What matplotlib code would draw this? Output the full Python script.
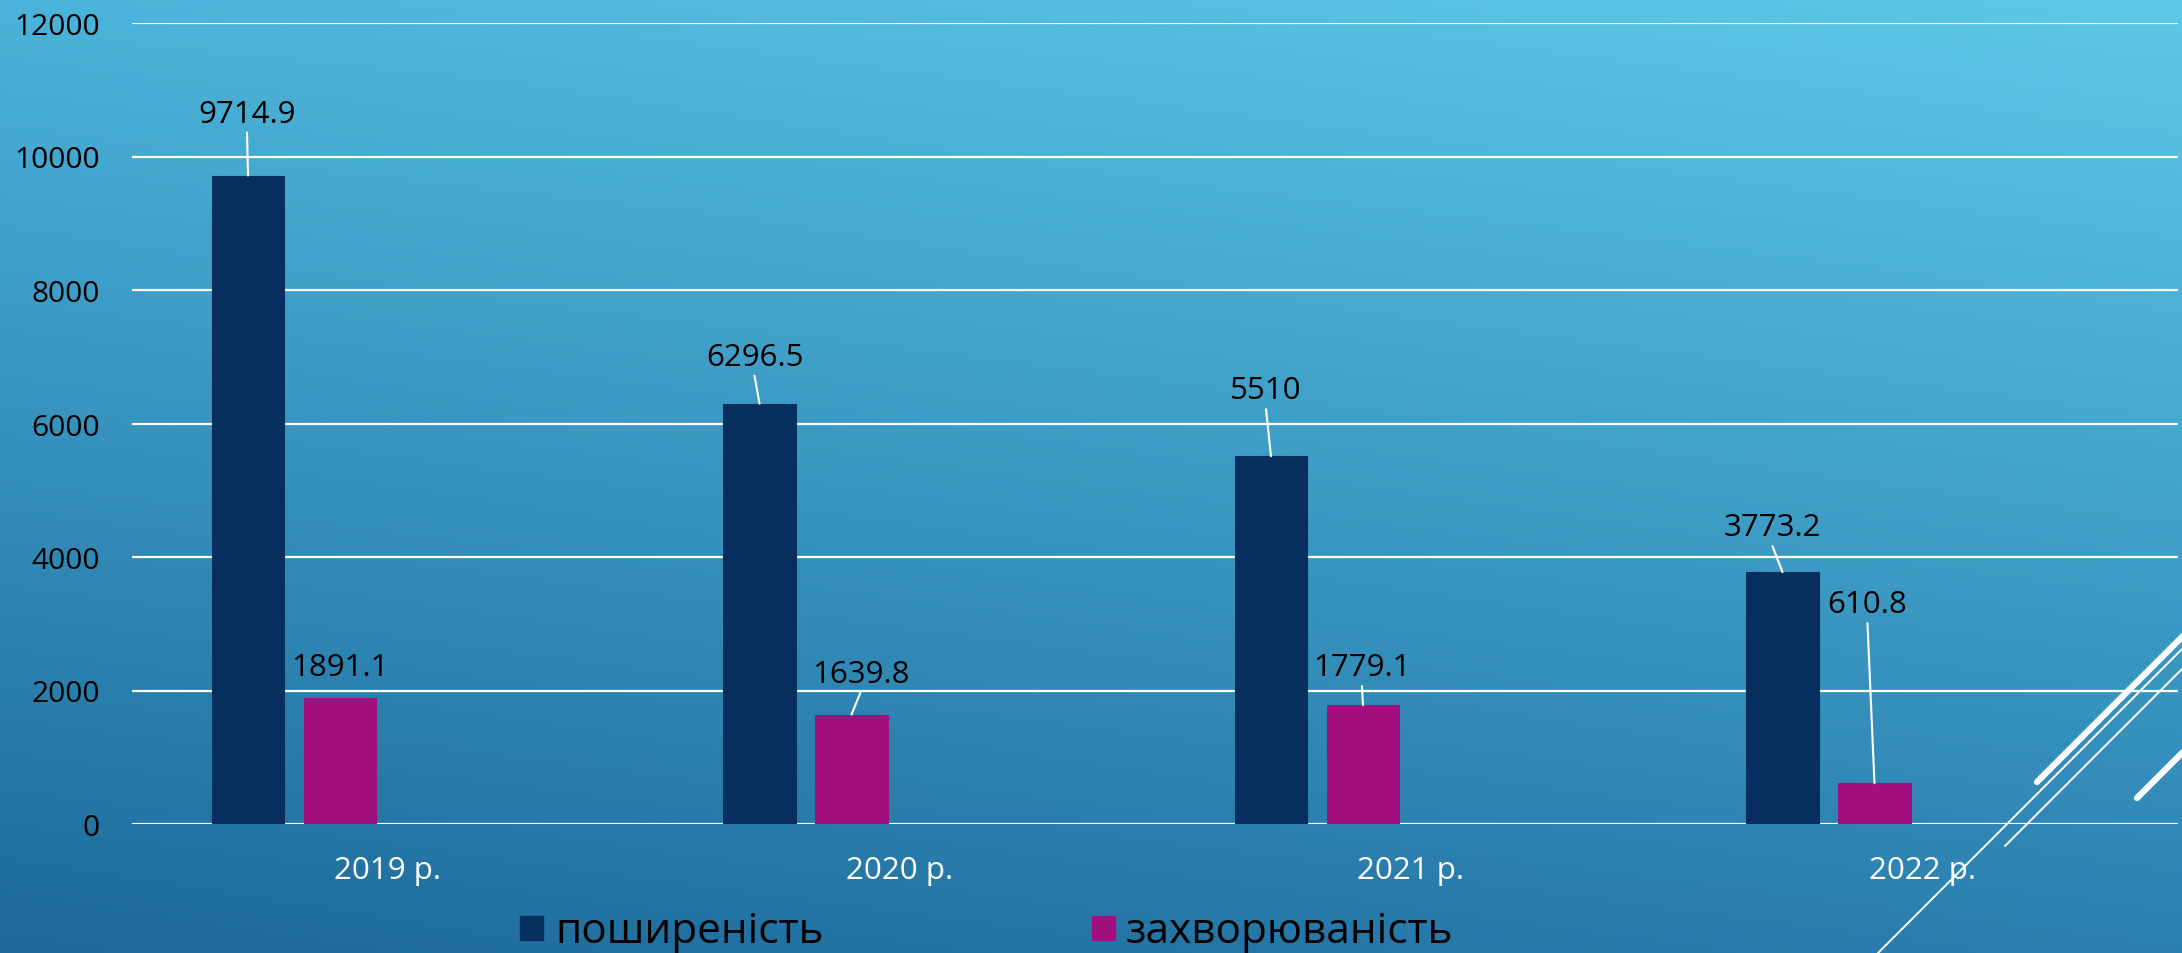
import numpy as np
import matplotlib
matplotlib.use("Agg")
import matplotlib.pyplot as plt
from matplotlib.patches import Rectangle
from matplotlib.lines import Line2D

# ---- data ----
years = ["2019 р.", "2020 р.", "2021 р.", "2022 р."]
series_names = ["поширеність", "захворюваність"]
prevalence = [9714.9, 6296.5, 5510, 3773.2]
incidence = [1891.1, 1639.8, 1779.1, 610.8]
y_ticks = [0, 2000, 4000, 6000, 8000, 10000, 12000]

# ---- styling ----
FONT = ["Open Sans", "DejaVu Sans"]
plt.rcParams["font.family"] = FONT
bar_colors = ["#062E5F", "#A20F7E"]
bar_offsets = [-0.2732, -0.0934]
bar_width = 0.1418
# value-label placement: (dx, dy) in pixels from the top centre of each bar
label_offsets = [
    [(-1, 65), (-5, 50), (-5, 69), (-10, 48)],
    [(0, 34), (9, 44), (-1, 41), (-7, 182)],
]
leaders = [
    [True, True, True, True],
    [False, True, True, True],
]

W, H = 2182, 954
fig = plt.figure(figsize=(W / 100, H / 100), dpi=100)

# background gradient
bg = fig.add_axes([0, 0, 1, 1], zorder=-10)
bg.set_xlim(0, W)
bg.set_ylim(H, 0)
bg.axis("off")
tl = np.array([0x4B, 0xB3, 0xD9]) / 255
tr = np.array([0x5C, 0xC9, 0xE6]) / 255
bl = np.array([0x1C, 0x6A, 0x9A]) / 255
br = np.array([0x2B, 0x80, 0xB1]) / 255
gy, gx = np.mgrid[0:1:120j, 0:1:240j]
grad = ((1 - gy)[..., None] * ((1 - gx)[..., None] * tl + gx[..., None] * tr)
        + gy[..., None] * ((1 - gx)[..., None] * bl + gx[..., None] * br))
bg.imshow(grad, extent=(0, W, H, 0), aspect="auto", interpolation="bilinear")

# decorative diagonal strokes
for (x0, y0, x1, y1, lw) in [(2037, 783, 2200, 620, 4.5),
                             (1878, 954, 2200, 632, 1.4),
                             (2005, 847, 2200, 652, 1.4),
                             (2137, 799, 2200, 736, 4.5)]:
    bg.add_line(Line2D([x0, x1], [y0, y1], color="white", lw=lw,
                       solid_capstyle="round"))

# legend entries
legend_pos = [(520, 555), (1092, 1126)]
for name, color, (mx, tx) in zip(series_names, bar_colors, legend_pos):
    bg.add_patch(Rectangle((mx, 917), 23, 24, color=color))
    bg.text(tx, 943, name, fontsize=30.5, color="black", va="baseline",
            ha="left")

# main chart
ax = fig.add_axes([132 / W, 129 / H, 2046 / W, 801 / H])
ax.patch.set_alpha(0)
x = np.arange(len(years))
for vals, color, off, offs, leads in zip([prevalence, incidence], bar_colors,
                                         bar_offsets, label_offsets, leaders):
    ax.bar(x + off, vals, width=bar_width, color=color, edgecolor=color,
           lw=0.8, zorder=3)
    for xi, v, (dx, dy), lead in zip(x + off, vals, offs, leads):
        ax.annotate(f"{v:g}", xy=(xi, v), xytext=(dx, dy - 11),
                    textcoords="offset pixels", ha="center", va="baseline",
                    fontsize=22.5, color="black", zorder=5)
        if lead:
            ax.annotate("", xy=(xi, v), xytext=(dx, dy - 22),
                        textcoords="offset pixels",
                        arrowprops=dict(arrowstyle="-", color="white", lw=1.5,
                                        shrinkA=0, shrinkB=0), zorder=4)

ax.set_xlim(-0.5, len(years) - 0.5)
ax.set_ylim(0, 12000)
ax.set_yticks(y_ticks)
ax.set_yticklabels([str(t) for t in y_ticks])
ax.set_xticks(x)
ax.set_xticklabels(years)
ax.yaxis.grid(True, color="white", lw=1.6)
ax.set_axisbelow(True)
for s in ax.spines.values():
    s.set_visible(False)
ax.tick_params(axis="y", length=0, pad=23, labelsize=21.5, labelcolor="black")
ax.tick_params(axis="x", length=0, pad=22, labelsize=22.5, labelcolor="white")

fig.savefig("out.png", dpi=100)
